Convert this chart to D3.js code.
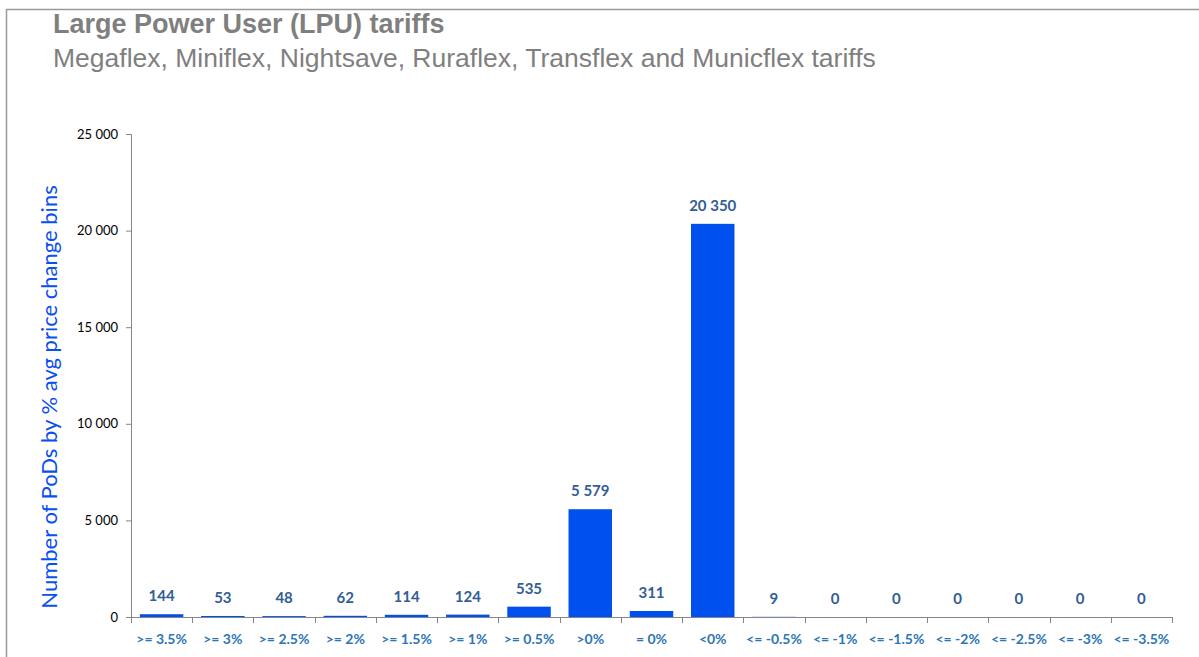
<!DOCTYPE html>
<html>
<head>
<meta charset="utf-8">
<script src="https://cdn.jsdelivr.net/npm/d3@7/dist/d3.min.js"></script>
<style>
  body { margin: 0; background: #fff; }
  svg { display: block; }
  .title { font-family: 'Liberation Sans', Arial, sans-serif; font-weight: bold; font-size: 27px; fill: #7f7f7f; }
  .subtitle { font-family: 'Liberation Sans', Arial, sans-serif; font-size: 26.5px; fill: #7f7f7f; }
  .y-tick text { font-family: Lato, sans-serif; font-size: 13px; fill: #000; }
  .x-tick text { font-family: Lato, sans-serif; font-size: 14px; fill: #2e75b6; font-weight: bold; }
  .axis-label { font-family: Lato, sans-serif; font-size: 22px; fill: #0a4ff0; }
  .bar-label { font-family: Lato, sans-serif; font-size: 15px; font-weight: bold; fill: #335d95; }
</style>
</head>
<body>
<svg width="1199" height="657"></svg>
<script>
  const categories = ['>= 3.5%', '>= 3%', '>= 2.5%', '>= 2%', '>= 1.5%', '>= 1%', '>= 0.5%', '>0%',
    '= 0%', '<0%', '<= -0.5%', '<= -1%', '<= -1.5%', '<= -2%', '<= -2.5%', '<= -3%', '<= -3.5%'];
  const counts = [144, 53, 48, 62, 114, 124, 535, 5579, 311, 20350, 9, 0, 0, 0, 0, 0, 0];
  const yTicks = [0, 5000, 10000, 15000, 20000, 25000];

  const title = 'Large Power User (LPU) tariffs';
  const subtitle = 'Megaflex, Miniflex, Nightsave, Ruraflex, Transflex and Municflex tariffs';
  const yAxisLabel = 'Number of PoDs by % avg price change bins';

  const svg = d3.select('svg');
  const width = +svg.attr('width');
  const height = +svg.attr('height');

  const fmt = d3.formatLocale({ decimal: '.', thousands: ' ', grouping: [3], currency: ['', ''] }).format(',d');

  // frame around the slide
  svg.append('path')
    .attr('d', `M6.5,${height} V9.5 H${width}`)
    .attr('fill', 'none')
    .attr('stroke', '#9a9a9a')
    .attr('stroke-width', 1.5);

  svg.append('text').attr('class', 'title').attr('x', 53).attr('y', 33).text(title);
  svg.append('text').attr('class', 'subtitle').attr('x', 53).attr('y', 67).text(subtitle);

  const margin = { top: 134, right: 27, bottom: 40, left: 131 };
  const innerWidth = width - margin.left - margin.right;
  const innerHeight = height - margin.top - margin.bottom;

  const g = svg.append('g').attr('transform', `translate(${margin.left},${margin.top})`);

  const xScale = d3.scaleBand().domain(categories).range([0, innerWidth]).paddingInner(0.29).paddingOuter(0.145);
  const yScale = d3.scaleLinear().domain([0, 25000]).range([innerHeight, 0]);

  // y axis
  const yAxisG = g.append('g')
    .call(d3.axisLeft(yScale).tickValues(yTicks).tickSize(5).tickPadding(8).tickFormat(fmt));
  yAxisG.selectAll('.tick').attr('class', 'tick y-tick');
  yAxisG.select('.domain').attr('stroke', '#868686').attr('d', `M-5,0.5H0.5V${innerHeight}`);
  yAxisG.selectAll('line').attr('stroke', '#868686');
  yAxisG.selectAll('text').attr('font-family', null).attr('font-size', null).attr('fill', null);

  // x axis: ticks on band boundaries
  const xAxisG = g.append('g').attr('transform', `translate(0,${innerHeight})`);
  xAxisG.append('line')
    .attr('x1', 0).attr('x2', innerWidth).attr('y1', 0.5).attr('y2', 0.5)
    .attr('stroke', '#868686');
  const step = xScale.step();
  const bounds = d3.range(categories.length + 1).map(i => xScale(categories[0]) - xScale.paddingOuter() * step + i * step);
  xAxisG.selectAll('.bound').data(bounds).join('line')
    .attr('class', 'bound')
    .attr('x1', d => Math.round(d) + 0.5).attr('x2', d => Math.round(d) + 0.5)
    .attr('y1', 0).attr('y2', 6)
    .attr('stroke', '#868686');
  xAxisG.selectAll('.x-tick').data(categories).join('g')
    .attr('class', 'x-tick')
    .append('text')
    .attr('x', d => xScale(d) + xScale.bandwidth() / 2)
    .attr('y', 27)
    .attr('text-anchor', 'middle')
    .text(d => d);

  // bars
  g.selectAll('.bar').data(categories).join('rect')
    .attr('class', 'bar')
    .attr('x', d => xScale(d))
    .attr('width', xScale.bandwidth())
    .attr('y', (d, i) => yScale(counts[i]))
    .attr('height', (d, i) => innerHeight - yScale(counts[i]))
    .attr('fill', '#0050f0');

  g.selectAll('.bar-label').data(categories).join('text')
    .attr('class', 'bar-label')
    .attr('x', d => xScale(d) + xScale.bandwidth() / 2)
    .attr('y', (d, i) => yScale(counts[i]) - 13)
    .attr('text-anchor', 'middle')
    .text((d, i) => fmt(counts[i]));

  svg.append('text')
    .attr('class', 'axis-label')
    .attr('transform', `translate(57,397) rotate(-90)`)
    .attr('text-anchor', 'middle')
    .text(yAxisLabel);
</script>
</body>
</html>
